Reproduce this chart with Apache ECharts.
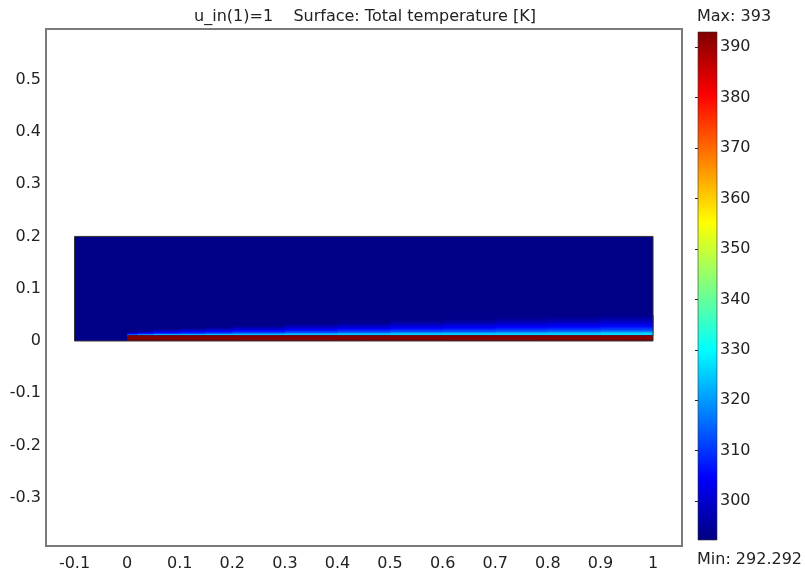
<!DOCTYPE html>
<html>
<head>
<meta charset="utf-8">
<script src="https://cdn.jsdelivr.net/npm/echarts@6/dist/echarts.min.js"></script>
<style>
  html, body { margin: 0; padding: 0; background: #fff; }
  #main { width: 805px; height: 574px; }
</style>
</head>
<body>
<div id="main"></div>
<script>
  var xTicks = [-0.1, 0, 0.1, 0.2, 0.3, 0.4, 0.5, 0.6, 0.7, 0.8, 0.9, 1]
  var yTicks = [-0.3, -0.2, -0.1, 0, 0.1, 0.2, 0.3, 0.4, 0.5]
  var cbTicks = [300, 310, 320, 330, 340, 350, 360, 370, 380, 390]
  var tMin = 292.292
  var tMax = 393
  var tAmbient = 293.15

  // regions [x0, x1, y0, y1, T]
  var fluid = [[-0.1, 1, 0, 0.2, 293.15]]
  var plate = [[0, 1, 0, 0.011, 393]]

  // thermal boundary layer above the plate, column by column
  var blEdges = [0, 0.02, 0.05, 0.1, 0.15, 0.2, 0.3, 0.4, 0.5, 0.6, 0.7, 0.8, 0.9, 1]
  var blThick = [0.007, 0.009, 0.012, 0.014, 0.016, 0.019, 0.023, 0.026, 0.029, 0.031, 0.034, 0.036, 0.038]
  var blWallT = [324, 325, 325, 325, 326, 326, 326, 326, 327, 327, 327, 327, 328]
  // [fraction of thickness, fraction of wall excess temperature]
  var blProfile = [[0, 1], [0.12, 0.9], [0.22, 0.6], [0.45, 0.35], [0.75, 0.12], [1, 0]]

  var jetStops = [[0, [0, 0, 128]], [0.125, [0, 0, 255]], [0.375, [0, 255, 255]],
    [0.625, [255, 255, 0]], [0.875, [255, 0, 0]], [1, [128, 0, 0]]]

  function jet (t) {
    var r = (t - tMin) / (tMax - tMin)
    r = Math.max(0, Math.min(1, r))
    for (var i = 1; i < jetStops.length; i++) {
      if (r <= jetStops[i][0]) {
        var a = jetStops[i - 1], b = jetStops[i]
        var k = (r - a[0]) / (b[0] - a[0])
        var c = a[1].map(function (v, j) { return Math.round(v + (b[1][j] - v) * k) })
        return 'rgb(' + c.join(',') + ')'
      }
    }
    return 'rgb(128,0,0)'
  }

  var blData = []
  for (var i = 0; i < blThick.length; i++) {
    blData.push([blEdges[i], blEdges[i + 1], blThick[i], blWallT[i]])
  }

  var font = 'DejaVu Sans'
  var txt = '#222'

  function rectItem (params, api) {
    var p0 = api.coord([api.value(0), api.value(3)])
    var p1 = api.coord([api.value(1), api.value(2)])
    return {
      type: 'rect',
      shape: { x: p0[0], y: p0[1], width: p1[0] - p0[0], height: p1[1] - p0[1] },
      style: { fill: jet(api.value(4)) }
    }
  }

  var myChart = echarts.init(document.getElementById('main'))
  myChart.setOption({
    animation: false,
    grid: [
      { left: 46, top: 29, width: 636, height: 517, show: true, borderColor: '#7a7a7a', borderWidth: 2 },
      { left: 698, top: 32, width: 19, height: 508 }
    ],
    xAxis: [
      {
        gridIndex: 0, type: 'value', min: -0.1542, max: 1.0551,
        axisLine: { show: false }, axisTick: { show: false }, splitLine: { show: false },
        axisLabel: { customValues: xTicks, margin: 10, fontFamily: font, fontSize: 16, color: txt, formatter: function (v) { return String(v) } }
      },
      { gridIndex: 1, type: 'value', min: 0, max: 1, show: false }
    ],
    yAxis: [
      {
        gridIndex: 0, type: 'value', min: -0.392, max: 0.5966,
        axisLine: { show: false }, axisTick: { show: false }, splitLine: { show: false },
        axisLabel: { customValues: yTicks, margin: 5, fontFamily: font, fontSize: 16, color: txt, formatter: function (v) { return String(v) } }
      },
      {
        gridIndex: 1, type: 'value', min: tMin, max: tMax, position: 'right',
        axisLine: { show: false }, splitLine: { show: false },
        axisTick: { customValues: cbTicks, inside: true, length: 3, lineStyle: { color: '#222' } },
        axisLabel: { customValues: cbTicks, margin: 3, fontFamily: font, fontSize: 16, color: txt }
      },
      {
        gridIndex: 1, type: 'value', min: tMin, max: tMax, position: 'left',
        axisLine: { show: false }, splitLine: { show: false }, axisLabel: { show: false },
        axisTick: { customValues: cbTicks, inside: true, length: 3, lineStyle: { color: '#222' } }
      }
    ],
    series: [
      { type: 'custom', xAxisIndex: 0, yAxisIndex: 0, data: fluid, renderItem: rectItem, silent: true },
      {
        type: 'custom', xAxisIndex: 0, yAxisIndex: 0, data: blData, silent: true,
        renderItem: function (params, api) {
          var top = plate[0][3]
          var p0 = api.coord([api.value(0), top + api.value(2)])
          var p1 = api.coord([api.value(1), top])
          var wallT = api.value(3)
          var stops = blProfile.map(function (p) {
            return { offset: p[0], color: jet(tAmbient + p[1] * (wallT - tAmbient)) }
          })
          return {
            type: 'rect',
            shape: { x: p0[0], y: p0[1], width: p1[0] - p0[0] + 0.5, height: p1[1] - p0[1] },
            style: { fill: new echarts.graphic.LinearGradient(0, 1, 0, 0, stops) }
          }
        }
      },
      { type: 'custom', xAxisIndex: 0, yAxisIndex: 0, data: plate, renderItem: rectItem, silent: true },
      {
        type: 'custom', xAxisIndex: 0, yAxisIndex: 0, data: fluid, silent: true,
        renderItem: function (params, api) {
          var p0 = api.coord([api.value(0), api.value(3)])
          var p1 = api.coord([api.value(1), api.value(2)])
          return {
            type: 'rect',
            shape: { x: p0[0], y: p0[1], width: p1[0] - p0[0], height: p1[1] - p0[1] },
            style: { fill: 'none', stroke: '#333', lineWidth: 1 }
          }
        }
      },
      {
        type: 'custom', xAxisIndex: 1, yAxisIndex: 1, data: [[0, 1, tMin, tMax]], silent: true,
        renderItem: function (params, api) {
          var p0 = api.coord([api.value(0), api.value(3)])
          var p1 = api.coord([api.value(1), api.value(2)])
          var stops = jetStops.map(function (s) {
            return { offset: s[0], color: 'rgb(' + s[1].join(',') + ')' }
          })
          return {
            type: 'rect',
            shape: { x: p0[0], y: p0[1], width: p1[0] - p0[0], height: p1[1] - p0[1] },
            style: { fill: new echarts.graphic.LinearGradient(0, 1, 0, 0, stops), stroke: '#333', lineWidth: 0.6 }
          }
        }
      }
    ],
    graphic: [
      { type: 'text', x: 365, y: 17, style: { text: 'u_in(1)=1    Surface: Total temperature [K]', align: 'center', verticalAlign: 'middle', fontFamily: font, fontSize: 16, fill: txt } },
      { type: 'text', x: 697, y: 17, style: { text: 'Max: 393', verticalAlign: 'middle', fontFamily: font, fontSize: 16, fill: txt } },
      { type: 'text', x: 697, y: 560, style: { text: 'Min: 292.292', verticalAlign: 'middle', fontFamily: font, fontSize: 16, fill: txt } }
    ]
  })
</script>
</body>
</html>
